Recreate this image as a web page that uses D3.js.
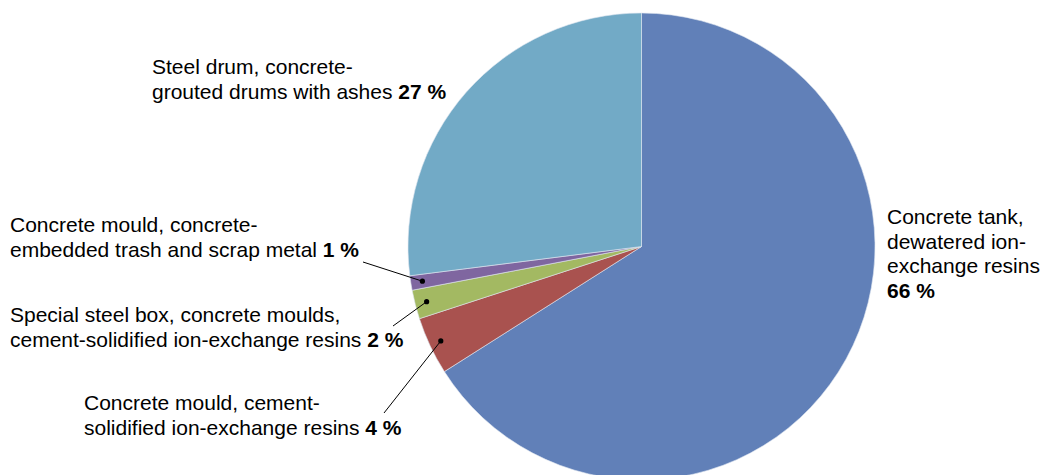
<!DOCTYPE html>
<html>
<head>
<meta charset="utf-8">
<script src="https://cdn.jsdelivr.net/npm/d3@7"></script>
<style>
  html, body { margin: 0; padding: 0; background: #ffffff; }
  svg { display: block; }
  text { font-family: "Liberation Sans", Arial, sans-serif; font-size: 21px; fill: #000; }
</style>
</head>
<body>
<svg id="chart" width="1045" height="475"></svg>
<script>
// Waste package types, share of total volume (%), clockwise from 12 o'clock
const categories = [
  "Concrete tank, dewatered ion-exchange resins",
  "Concrete mould, cement-solidified ion-exchange resins",
  "Special steel box, concrete moulds, cement-solidified ion-exchange resins",
  "Concrete mould, concrete-embedded trash and scrap metal",
  "Steel drum, concrete-grouted drums with ashes"
];
const shares = [66, 4, 2, 1, 27];
const colors = ["#6180b8", "#a9524f", "#a3b962", "#7f66a0", "#72aac6"];

// Label text, broken into lines; the share is appended in bold
const labelLines = [
  ["Concrete tank,", "dewatered ion-", "exchange resins", ""],
  ["Concrete mould, cement-", "solidified ion-exchange resins "],
  ["Special steel box, concrete moulds,", "cement-solidified ion-exchange resins "],
  ["Concrete mould, concrete-", "embedded trash and scrap metal "],
  ["Steel drum, concrete-", "grouted drums with ashes "]
];

const svg = d3.select("#chart");
const cx = 641.5, cy = 246.5, radius = 233.5;
const lineHeight = 24.5;

const data = categories.map((c, i) => ({ category: c, value: shares[i], color: colors[i], lines: labelLines[i] }));

const pie = d3.pie().sort(null).value(d => d.value);
const arcs = pie(data);
const arc = d3.arc().innerRadius(0).outerRadius(radius);
const dotArc = d3.arc().innerRadius(radius * 0.95).outerRadius(radius * 0.95);

const g = svg.append("g").attr("transform", `translate(${cx},${cy})`);

g.selectAll("path.slice")
  .data(arcs)
  .join("path")
  .attr("class", "slice")
  .attr("d", arc)
  .attr("fill", d => d.data.color)
  .attr("stroke", "#dfe6f0")
  .attr("stroke-width", 0.6);

// Label anchor positions (left edge, first baseline) and leader-line starts
const labelPos = [
  { x: 887, y: 224, leader: null },
  { x: 84, y: 410, leader: [384, 413] },
  { x: 10, y: 322, leader: [393, 326] },
  { x: 10, y: 232, leader: [363, 262] },
  { x: 152, y: 74, leader: null }
];

const labels = svg.append("g");
arcs.forEach((a, i) => {
  const p = labelPos[i];
  const t = labels.append("text").attr("x", p.x).attr("y", p.y);
  a.data.lines.forEach((ln, j) => {
    const ts = t.append("tspan").attr("x", p.x).attr("dy", j === 0 ? 0 : lineHeight);
    ts.append("tspan").text(ln);
    if (j === a.data.lines.length - 1) {
      ts.append("tspan").attr("font-weight", "bold").text(`${a.data.value} %`);
    }
  });
  if (p.leader) {
    const [dx, dy] = dotArc.centroid(a);
    labels.append("line")
      .attr("x1", p.leader[0]).attr("y1", p.leader[1])
      .attr("x2", cx + dx).attr("y2", cy + dy)
      .attr("stroke", "#000").attr("stroke-width", 1);
    labels.append("circle")
      .attr("cx", cx + dx).attr("cy", cy + dy).attr("r", 2.6)
      .attr("fill", "#000");
  }
});
</script>
</body>
</html>
